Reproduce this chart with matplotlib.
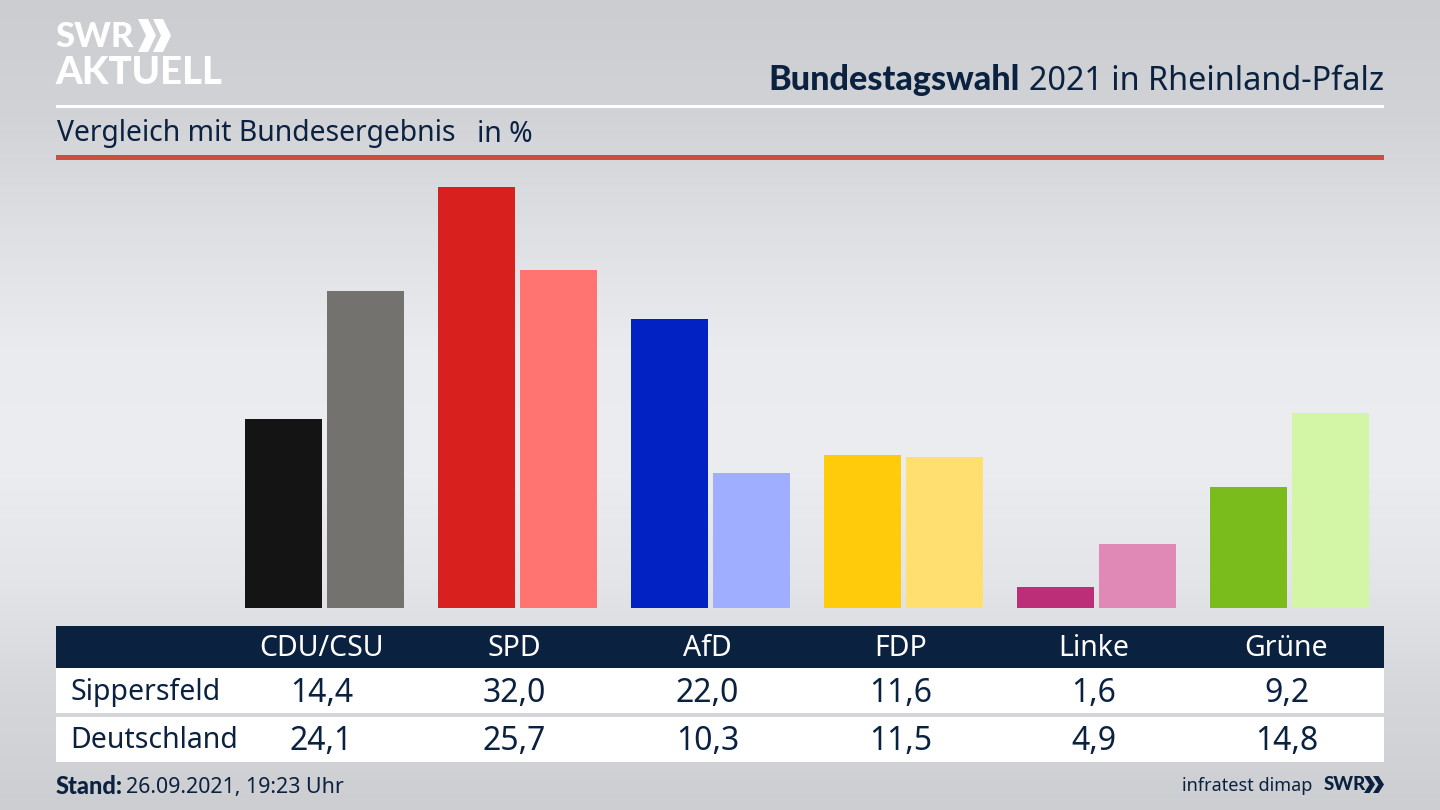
import numpy as np
import matplotlib
matplotlib.use('Agg')
import matplotlib.pyplot as plt
from matplotlib.patches import Rectangle, Polygon

parties = ['CDU/CSU', 'SPD', 'AfD', 'FDP', 'Linke', 'Grüne']
sippersfeld = [14.4, 32.0, 22.0, 11.6, 1.6, 9.2]
deutschland = [24.1, 25.7, 10.3, 11.5, 4.9, 14.8]
colors_local = ['#141414', '#d8201f', '#0222c4', '#ffcb0a', '#bc2f78', '#79bc1c']
colors_bund = ['#74726f', '#ff7370', '#a0aeff', '#ffdf70', '#e089b6', '#d2f5a6']
row_names = ['Sippersfeld', 'Deutschland']
fmt = lambda v: f'{v:.1f}'.replace('.', ',')

navy = '#0b2140'
font = 'Noto Sans'
bold_font = 'Lato'
plt.rcParams['font.family'] = [font, 'DejaVu Sans']

fig = plt.figure(figsize=(14.4, 8.1), dpi=100)

# background gradient
bg = fig.add_axes([0, 0, 1, 1])
bg.set_xlim(0, 1440)
bg.set_ylim(810, 0)
bg.axis('off')
grad_stops = [205, 211, 224, 235, 237, 229, 215, 206]
grad = np.interp(np.linspace(0, 1, 200), np.linspace(0, 1, len(grad_stops)), grad_stops)
rgb = np.dstack([grad - 2, grad, grad + 4]).reshape(200, 1, 3) / 255
bg.imshow(rgb, extent=[0, 1440, 810, 0], aspect='auto', zorder=0)

# header lines
bg.add_patch(Rectangle((56, 104.5), 1328, 3, color='white', lw=0, zorder=1))
bg.add_patch(Rectangle((56, 155), 1328, 5, color='#c8503c', lw=0, zorder=1))


def label(x, y, s, size, color=navy, ha='left', bold=False):
    if bold:
        bg.text(x, y, s, fontsize=size, color=color, ha=ha, va='center', family=bold_font,
                fontweight='black', zorder=3)
    else:
        bg.text(x, y, s, fontsize=size, color=color, ha=ha, va='center', zorder=3)


def chevrons(x0s, top, bottom, width, thick, color):
    mid = (top + bottom) / 2
    for x0 in x0s:
        bg.add_patch(Polygon([(x0, top), (x0 + thick, top), (x0 + width, mid), (x0 + thick, bottom),
                              (x0, bottom), (x0 + width - thick, mid)], color=color, lw=0, zorder=3))


# logo
label(55, 37, 'SWR', 25, 'white', bold=True)
label(55, 73, 'AKTUELL', 27.5, 'white', bold=True)
chevrons((138, 153), 19, 52, 18, 10, 'white')

# titles
label(1384, 81, '2021 in Rheinland-Pfalz', 23.3, ha='right')
label(1020, 80, 'Bundestagswahl', 24.6, ha='right', bold=True)
label(57, 134, 'Vergleich mit Bundesergebnis', 20.4)
label(477, 134, 'in %', 20.4)

# bars
ax = fig.add_axes([56 / 1440, 1 - 608 / 810, 1328 / 1440, 448 / 810])
ax.patch.set_alpha(0)
ax.set_xlim((56 - 324.7) / 193, (1384 - 324.7) / 193)
ax.set_ylim(0, 448 / 13.15)
ax.axis('off')
x = np.arange(len(parties))
ax.bar(x - 41 / 193, sippersfeld, width=77 / 193, color=colors_local)
ax.bar(x + 41 / 193, deutschland, width=77 / 193, color=colors_bund)

# table
bg.add_patch(Rectangle((56, 626), 1328, 42, color=navy, lw=0, zorder=1))
bg.add_patch(Rectangle((56, 668), 1328, 45, color='white', lw=0, zorder=1))
bg.add_patch(Rectangle((56, 717), 1328, 45, color='white', lw=0, zorder=1))
centers = 321.5 + 193 * x
for cx, p, a, b in zip(centers, parties, sippersfeld, deutschland):
    label(cx, 648, p, 20.5, 'white', ha='center')
    label(cx, 693, fmt(a), 23, ha='center')
    label(cx, 741, fmt(b), 23, ha='center')
label(71, 692, row_names[0], 20.5)
label(70, 741, row_names[1], 20.5)

# footer
label(56, 786, 'Stand:', 17, bold=True)
label(126, 787, '26.09.2021, 19:23 Uhr', 15.4)
label(1312, 786, 'infratest dimap', 13, ha='right')
label(1324, 785, 'SWR', 13.5, bold=True)
chevrons((1364, 1373), 776, 793, 11, 5.5, navy)

fig.savefig('out.png', dpi=100)
